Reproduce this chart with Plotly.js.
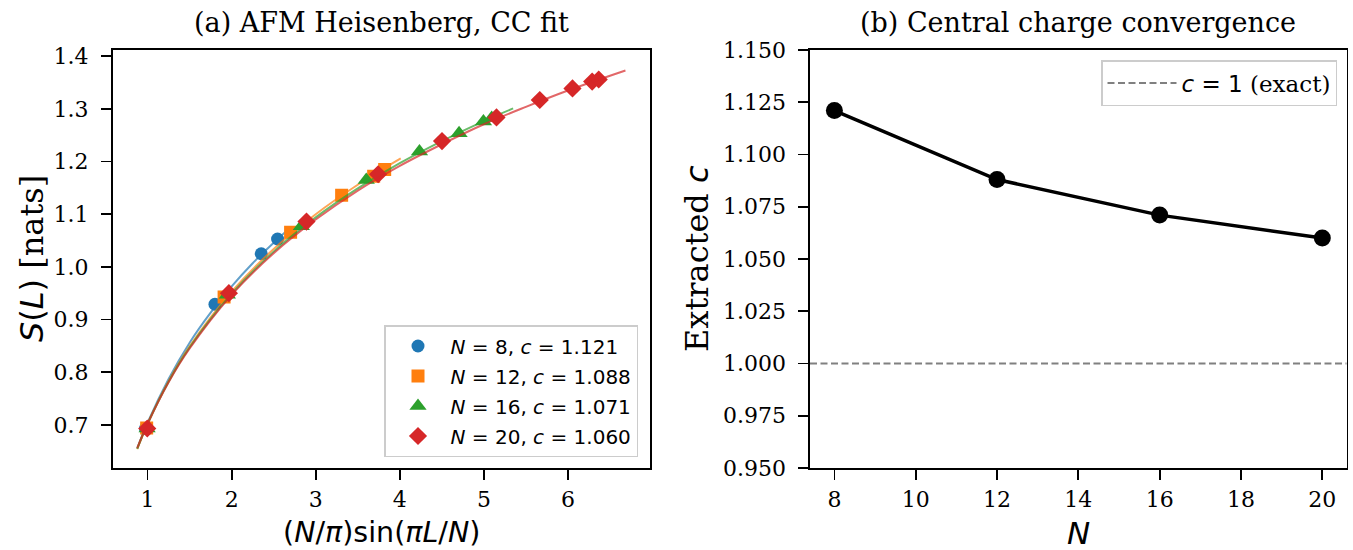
<!DOCTYPE html>
<html><head><meta charset="utf-8">
<script src="https://cdn.plot.ly/plotly-3.0.1.min.js"></script>
<style>html,body{margin:0;padding:0;background:#fff}#chart{width:1353px;height:550px}</style>
</head><body><div id="chart"></div>
<script>
// ---- Panel (a): entanglement entropy vs chord length ----
const x8  = [0.974, 1.801, 2.352, 2.546];
const s8  = [0.693, 0.929, 1.025, 1.053];
const x12 = [0.989, 1.910, 2.701, 3.308, 3.689, 3.820];
const s12 = [0.694, 0.943, 1.066, 1.136, 1.172, 1.185];
const x16 = [0.994, 1.949, 2.829, 3.601, 4.234, 4.705, 4.995, 5.093];
const s16 = [0.693, 0.947, 1.077, 1.165, 1.219, 1.254, 1.276, 1.283];
const x20 = [0.996, 1.967, 2.890, 3.742, 4.502, 5.150, 5.665, 6.054, 6.288, 6.366];
const s20 = [0.693, 0.950, 1.086, 1.176, 1.239, 1.284, 1.317, 1.339, 1.352, 1.356];

// fitted CC curves
const fx8  = [0.877, 1.0, 1.25, 1.5, 1.75, 2.0, 2.25, 2.5, 2.673];
const fs8  = [0.655, 0.704, 0.787, 0.856, 0.913, 0.963, 1.007, 1.046, 1.071];
const fx12 = [0.877, 1.0, 1.25, 1.5, 2.0, 2.5, 3.0, 3.5, 4.011];
const fs12 = [0.654, 0.702, 0.783, 0.849, 0.953, 1.034, 1.100, 1.156, 1.206];
const fx16 = [0.877, 1.0, 1.25, 1.5, 2.0, 2.5, 3.0, 3.5, 4.0, 4.5, 5.0, 5.348];
const fs16 = [0.655, 0.702, 0.782, 0.847, 0.949, 1.029, 1.094, 1.149, 1.197, 1.239, 1.277, 1.301];
const fx20 = [0.877, 1.0, 1.25, 1.5, 2.0, 2.5, 3.0, 3.5, 4.0, 4.5, 5.0, 5.5, 6.0, 6.684];
const fs20 = [0.656, 0.702, 0.781, 0.845, 0.947, 1.026, 1.090, 1.145, 1.192, 1.233, 1.271, 1.304, 1.335, 1.373];

const seriesNames = ['<i>N</i> = 8, <i>c</i> = 1.121', '<i>N</i> = 12, <i>c</i> = 1.088',
                     '<i>N</i> = 16, <i>c</i> = 1.071', '<i>N</i> = 20, <i>c</i> = 1.060'];

// ---- Panel (b): central charge convergence ----
const sizesN = [8, 12, 16, 20];
const cVals  = [1.121, 1.088, 1.071, 1.060];
const cExact = 1.0;

const colors  = ['#1f77b4', '#ff7f0e', '#2ca02c', '#d62728'];
const lineCol = ['rgba(31,119,180,0.7)', 'rgba(255,127,14,0.7)', 'rgba(44,160,44,0.7)', 'rgba(214,39,40,0.7)'];
const symbols = ['circle', 'square', 'triangle-up', 'diamond'];
const msizes  = [13, 13, 15, 14];

const pts = [[x8, s8], [x12, s12], [x16, s16], [x20, s20]];
const fits = [[fx8, fs8], [fx12, fs12], [fx16, fs16], [fx20, fs20]];

const traces = [];
for (let i = 0; i < 4; i++) {
  traces.push({
    x: pts[i][0], y: pts[i][1], type: 'scatter', mode: 'markers', name: seriesNames[i],
    marker: {color: colors[i], symbol: symbols[i], size: msizes[i], line: {width: 0}},
    xaxis: 'x', yaxis: 'y', legend: 'legend', legendgroup: 'g' + i
  });
  traces.push({
    x: fits[i][0], y: fits[i][1], type: 'scatter', mode: 'lines', showlegend: false,
    line: {color: lineCol[i], width: 2, shape: 'spline', smoothing: 1},
    xaxis: 'x', yaxis: 'y', hoverinfo: 'skip', legendgroup: 'g' + i
  });
}
const xr2 = [7.4, 20.6];
traces.push({
  x: xr2, y: [cExact, cExact], type: 'scatter', mode: 'lines',
  name: '<i>c</i> = 1 <span style="font-family:\'DejaVu Serif\'">(exact)</span>',
  line: {color: '#808080', width: 2, dash: '7px,3.5px'},
  xaxis: 'x2', yaxis: 'y2', legend: 'legend2'
});
traces.push({
  x: sizesN, y: cVals, type: 'scatter', mode: 'lines+markers', showlegend: false,
  line: {color: 'black', width: 3.5}, marker: {color: 'black', size: 17},
  xaxis: 'x2', yaxis: 'y2'
});

const tickFont = {family: 'DejaVu Serif', size: 22, color: 'black'};
const axBase = {
  showline: true, mirror: true, linecolor: 'black', linewidth: 1.7,
  ticks: 'outside', ticklen: 10, tickwidth: 1.7, tickcolor: 'black',
  showgrid: false, zeroline: false, tickfont: tickFont, fixedrange: true
};
const xAx = Object.assign({}, axBase, {ticklabelstandoff: 1});
const yAx = Object.assign({}, axBase, {ticklabelstandoff: 8});
const W = 1353, H = 550;
const yDom = [(H - 468) / H, (H - 50) / H];

const layout = {
  width: W, height: H, margin: {l: 0, r: 0, t: 0, b: 0},
  paper_bgcolor: 'white', plot_bgcolor: 'white', showlegend: true,
  xaxis: Object.assign({}, xAx, {domain: [112.7 / W, 650 / W], range: [0.585, 6.976], dtick: 1, tick0: 0, anchor: 'y'}),
  yaxis: Object.assign({}, yAx, {domain: yDom, range: [0.618, 1.412], dtick: 0.1, tick0: 0, tickformat: '.1f', anchor: 'x'}),
  xaxis2: Object.assign({}, xAx, {domain: [810 / W, 1346.7 / W], range: xr2, dtick: 2, tick0: 8, anchor: 'y2'}),
  yaxis2: Object.assign({}, yAx, {domain: yDom, range: [0.95, 1.15], dtick: 0.025, tick0: 0.95, tickformat: '.3f', anchor: 'x2'}),
  legend: {
    x: 638 / W, xanchor: 'right', y: (H - 457) / H, yanchor: 'bottom',
    bgcolor: 'white', bordercolor: '#cccccc', borderwidth: 1.5, tracegroupgap: 1,
    font: {family: 'DejaVu Sans', size: 20, color: 'black'}, itemwidth: 55
  },
  legend2: {
    x: 1337 / W, xanchor: 'right', y: (H - 60) / H, yanchor: 'top',
    bgcolor: 'white', bordercolor: '#cccccc', borderwidth: 1.5,
    font: {family: 'DejaVu Sans', size: 23, color: 'black'}, itemwidth: 69
  },
  annotations: [
    {text: '(a) AFM Heisenberg, CC fit', xref: 'paper', yref: 'paper', x: 381 / W, y: (H - 22) / H,
     xanchor: 'center', yanchor: 'middle', showarrow: false, font: {family: 'DejaVu Serif', size: 27, color: 'black'}},
    {text: '(b) Central charge convergence', xref: 'paper', yref: 'paper', x: 1078 / W, y: (H - 22) / H,
     xanchor: 'center', yanchor: 'middle', showarrow: false, font: {family: 'DejaVu Serif', size: 27, color: 'black'}},
    {text: '(<i>N</i>/<i>π</i>)sin(<i>πL</i>/<i>N</i>)', xref: 'paper', yref: 'paper', x: 381 / W, y: (H - 532) / H,
     xanchor: 'center', yanchor: 'middle', showarrow: false, font: {family: 'DejaVu Sans', size: 28.5, color: 'black'}},
    {text: '<i>N</i>', xref: 'paper', yref: 'paper', x: 1078 / W, y: (H - 533) / H,
     xanchor: 'center', yanchor: 'middle', showarrow: false, font: {family: 'DejaVu Sans', size: 31, color: 'black'}},
    {text: '<i>S</i>(<i>L</i>) <span style="font-family:\'DejaVu Serif\'">[nats]</span>', xref: 'paper', yref: 'paper',
     x: 32 / W, y: (H - 259) / H, textangle: -90,
     xanchor: 'center', yanchor: 'middle', showarrow: false, font: {family: 'DejaVu Sans', size: 32, color: 'black'}},
    {text: 'Extracted <span style="font-family:\'DejaVu Sans\'"><i>c</i></span>', xref: 'paper', yref: 'paper',
     x: 697 / W, y: (H - 259) / H, textangle: -90,
     xanchor: 'center', yanchor: 'middle', showarrow: false, font: {family: 'DejaVu Serif', size: 32, color: 'black'}}
  ]
};

Plotly.newPlot('chart', traces, layout, {displayModeBar: false, staticPlot: true});
</script>
</body></html>
